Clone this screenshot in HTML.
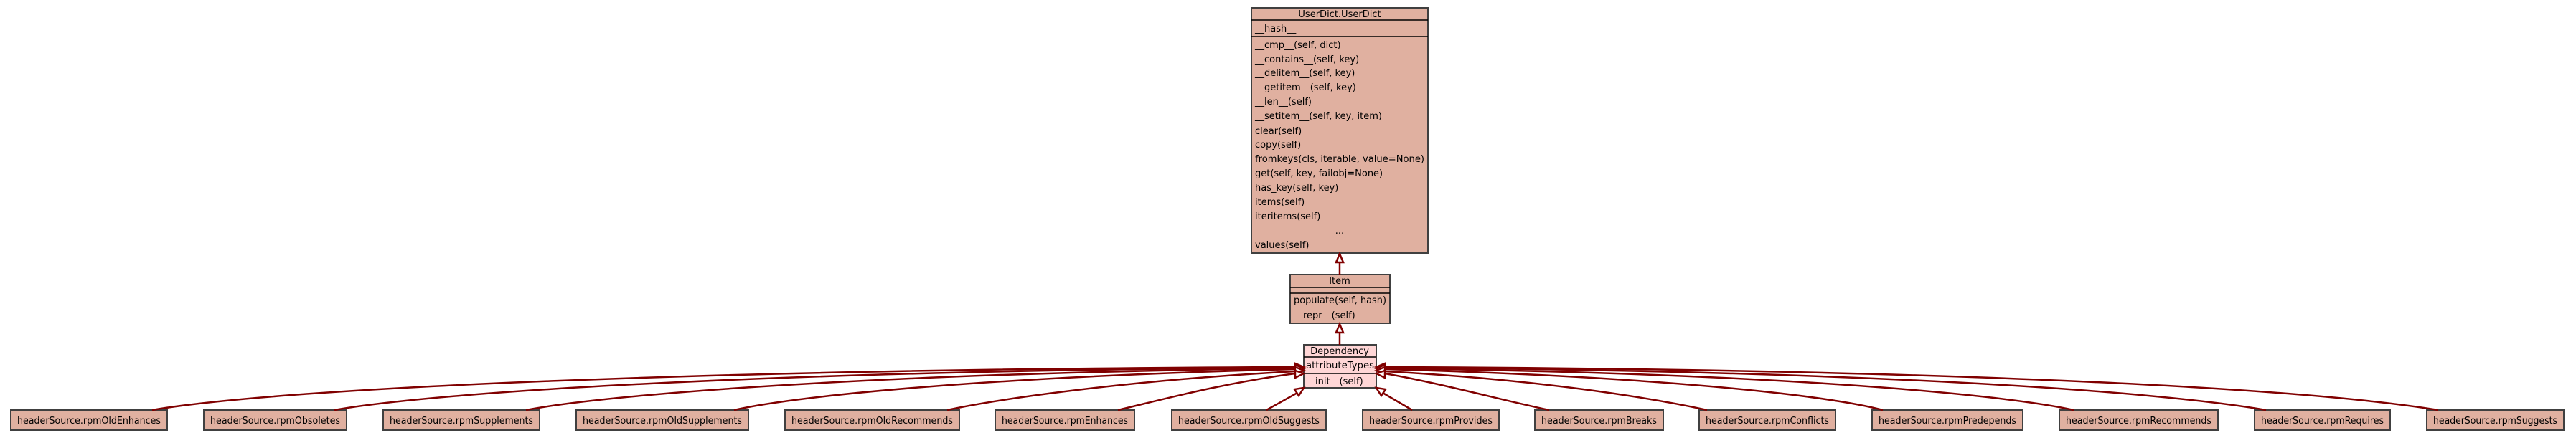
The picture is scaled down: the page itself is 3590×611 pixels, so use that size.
<!DOCTYPE html>
<html><head><meta charset="utf-8"><style>
html,body{margin:0;padding:0;background:#fff;}
svg{display:block;}
text{font-family:"DejaVu Sans","Liberation Sans",sans-serif;font-size:13px;fill:#000;}
.b{fill:#e0b0a0;stroke:#404040;stroke-width:2;}
.p{fill:#ffd6d6;stroke:#404040;stroke-width:2;}
.l{stroke:#000;stroke-width:1.5;}
.e{fill:none;stroke:#800000;stroke-width:2.5;}
.a{fill:#fff;stroke:#800000;stroke-width:2.5;}
</style></head><body>
<svg width="3590" height="611" viewBox="0 0 3590 611" xmlns="http://www.w3.org/2000/svg">
<!-- UserDict -->
<rect class="b" x="1744" y="11" width="246" height="342"/>
<line class="l" x1="1744" y1="28" x2="1990" y2="28"/>
<line class="l" x1="1744" y1="51" x2="1990" y2="51"/>
<text x="1867" y="24" text-anchor="middle">UserDict.UserDict</text>
<g>
<text x="1749" y="44">__hash__</text>
<text x="1749" y="67">__cmp__(self, dict)</text>
<text x="1749" y="87">__contains__(self, key)</text>
<text x="1749" y="106">__delitem__(self, key)</text>
<text x="1749" y="126">__getitem__(self, key)</text>
<text x="1749" y="146">__len__(self)</text>
<text x="1749" y="166">__setitem__(self, key, item)</text>
<text x="1749" y="187">clear(self)</text>
<text x="1749" y="206">copy(self)</text>
<text x="1749" y="226" textLength="236" lengthAdjust="spacingAndGlyphs">fromkeys(cls, iterable, value=None)</text>
<text x="1749" y="246">get(self, key, failobj=None)</text>
<text x="1749" y="266">has_key(self, key)</text>
<text x="1749" y="286">items(self)</text>
<text x="1749" y="306">iteritems(self)</text>
<text x="1867" y="326" text-anchor="middle">...</text>
<text x="1749" y="346">values(self)</text>
</g>
<!-- Item -->
<rect class="b" x="1798" y="383" width="139" height="68"/>
<line class="l" x1="1798" y1="401" x2="1937" y2="401"/>
<line class="l" x1="1798" y1="409" x2="1937" y2="409"/>
<text x="1867" y="396" text-anchor="middle">Item</text>
<text x="1803" y="423" textLength="129" lengthAdjust="spacingAndGlyphs">populate(self, hash)</text>
<text x="1803" y="444">__repr__(self)</text>
<!-- Dependency -->
<rect class="p" x="1817" y="481" width="101" height="60"/>
<line class="l" x1="1817" y1="498" x2="1918" y2="498"/>
<line class="l" x1="1817" y1="521" x2="1918" y2="521"/>
<text x="1867" y="494" text-anchor="middle">Dependency</text>
<text x="1820" y="514" textLength="95" lengthAdjust="spacingAndGlyphs">attributeTypes</text>
<text x="1820" y="536">__init__(self)</text>
<!-- vertical inheritance -->
<line class="e" x1="1867" y1="383" x2="1867" y2="366"/>
<polygon class="a" points="1867,354 1862,366 1872,366"/>
<line class="e" x1="1867" y1="481" x2="1867" y2="464"/>
<polygon class="a" points="1867,452 1862,464 1872,464"/>
<!-- bottom boxes -->
<g>
<rect class="b" x="15" y="572" width="218" height="28"/><text x="24" y="591" textLength="200" lengthAdjust="spacingAndGlyphs">headerSource.rpmOldEnhances</text>
<rect class="b" x="284" y="572" width="199" height="28"/><text x="293" y="591" textLength="181" lengthAdjust="spacingAndGlyphs">headerSource.rpmObsoletes</text>
<rect class="b" x="534" y="572" width="218" height="28"/><text x="543" y="591" textLength="200" lengthAdjust="spacingAndGlyphs">headerSource.rpmSupplements</text>
<rect class="b" x="803" y="572" width="240" height="28"/><text x="812" y="591" textLength="222" lengthAdjust="spacingAndGlyphs">headerSource.rpmOldSupplements</text>
<rect class="b" x="1094" y="572" width="243" height="28"/><text x="1103" y="591" textLength="225" lengthAdjust="spacingAndGlyphs">headerSource.rpmOldRecommends</text>
<rect class="b" x="1387" y="572" width="194" height="28"/><text x="1396" y="591" textLength="176" lengthAdjust="spacingAndGlyphs">headerSource.rpmEnhances</text>
<rect class="b" x="1633" y="572" width="215" height="28"/><text x="1642" y="591" textLength="197" lengthAdjust="spacingAndGlyphs">headerSource.rpmOldSuggests</text>
<rect class="b" x="1899" y="572" width="190" height="28"/><text x="1908" y="591" textLength="172" lengthAdjust="spacingAndGlyphs">headerSource.rpmProvides</text>
<rect class="b" x="2139" y="572" width="179" height="28"/><text x="2148" y="591" textLength="161" lengthAdjust="spacingAndGlyphs">headerSource.rpmBreaks</text>
<rect class="b" x="2368" y="572" width="190" height="28"/><text x="2377" y="591" textLength="172" lengthAdjust="spacingAndGlyphs">headerSource.rpmConflicts</text>
<rect class="b" x="2609" y="572" width="210" height="28"/><text x="2618" y="591" textLength="192" lengthAdjust="spacingAndGlyphs">headerSource.rpmPredepends</text>
<rect class="b" x="2870" y="572" width="221" height="28"/><text x="2879" y="591" textLength="203" lengthAdjust="spacingAndGlyphs">headerSource.rpmRecommends</text>
<rect class="b" x="3142" y="572" width="189" height="28"/><text x="3151" y="591" textLength="171" lengthAdjust="spacingAndGlyphs">headerSource.rpmRequires</text>
<rect class="b" x="3382" y="572" width="191" height="28"/><text x="3391" y="591" textLength="173" lengthAdjust="spacingAndGlyphs">headerSource.rpmSuggests</text>
</g>
<!-- left edges -->
<g>
<path class="e" d="M212,572 C400,540 1000,515 1805,512"/>
<path class="e" d="M466,572 C620,545 1100,517 1805,513"/>
<path class="e" d="M733,572 C860,548 1250,520 1805,514"/>
<path class="e" d="M1023,572 C1120,550 1400,525 1805,515"/>
<path class="e" d="M1320,572 C1400,555 1580,530 1805,518"/>
<path class="e" d="M1558,572 C1610,560 1700,535 1805,521"/>
<polygon class="a" points="1817,512 1805,507 1805,517"/>
<polygon class="a" points="1817,514 1805,509 1805,519"/>
<polygon class="a" points="1817,517 1805,512 1805,522"/>
<polygon class="a" points="1817,521 1805,517 1805,527"/>
<path class="e" d="M1765,572 L1808,548"/>
<polygon class="a" points="1817,541 1804,543 1810,552"/>
</g>
<!-- right edges -->
<g>
<path class="e" d="M3398,572 C3200,540 2700,515 1930,512"/>
<path class="e" d="M3158,572 C3000,545 2600,517 1930,513"/>
<path class="e" d="M2890,572 C2780,548 2450,520 1930,514"/>
<path class="e" d="M2624,572 C2540,550 2300,525 1930,515"/>
<path class="e" d="M2379,572 C2300,555 2150,530 1930,518"/>
<path class="e" d="M2159,572 C2100,560 2010,535 1930,521"/>
<polygon class="a" points="1918,512 1930,507 1930,517"/>
<polygon class="a" points="1918,514 1930,509 1930,519"/>
<polygon class="a" points="1918,517 1930,512 1930,522"/>
<polygon class="a" points="1918,521 1930,517 1930,527"/>
<path class="e" d="M1968,572 L1927,548"/>
<polygon class="a" points="1918,541 1931,543 1925,552"/>
</g>
</svg>
</body></html>
